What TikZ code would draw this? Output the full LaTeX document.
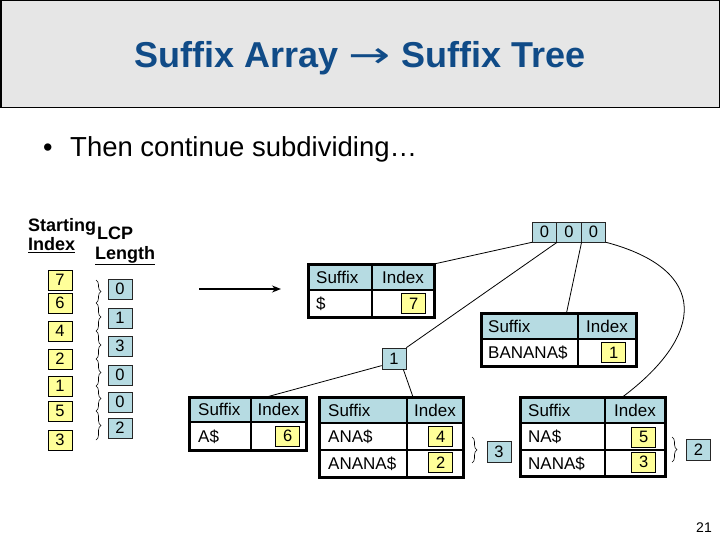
\documentclass[tikz,border=0pt]{standalone}
\usepackage{fontspec}
\usepackage{graphicx}
\setmainfont{Liberation Sans}
\newfontfamily\arrowfont{DejaVu Sans}
\usetikzlibrary{decorations.pathreplacing,calc,arrows.meta}
\definecolor{bandgray}{RGB}{230,230,230}
\definecolor{titleblue}{RGB}{16,75,135}
\definecolor{lcpblue}{RGB}{182,219,226}
\definecolor{idxyellow}{RGB}{255,255,153}
\tikzset{
  yb/.style={draw=black, line width=0.6pt, fill=idxyellow, minimum width=24pt, minimum height=20pt, inner sep=0pt, font=\fontsize{16.5}{16}\selectfont},
  lb/.style={draw=black!85, line width=0.6pt, fill=lcpblue, minimum width=24pt, minimum height=20pt, inner sep=0pt, font=\fontsize{16.5}{16}\selectfont},
  frame/.style={draw=black, line width=3pt, inner sep=0pt, outer sep=0pt},
  innerl/.style={line width=2pt},
  conn/.style={line width=0.8pt},
  brc/.style={decorate, decoration={brace, amplitude=5pt}, line width=0.6pt},
  ttxt/.style={anchor=base west, inner sep=0pt, font=\fontsize{17}{18}\selectfont},
  ttxc/.style={anchor=base, inner sep=0pt, font=\fontsize{17}{18}\selectfont},
  hdr/.style={anchor=base west, inner sep=0pt, font=\fontsize{18}{20}\selectfont\bfseries},
}
\begin{document}
\begin{tikzpicture}[x=1pt,y=-1pt]
\useasboundingbox (0,0) rectangle (720,540);
% title band
\fill[bandgray] (0,0) rectangle (720,108);
\draw[line width=1.5pt] (0.75,0.75) rectangle (719.25,107.5);
\node[anchor=base, inner sep=0pt, text=titleblue, font=\fontsize{36}{40}\selectfont\bfseries] (title) at (360,67.5) {Suffix Array {\arrowfont\mdseries\scalebox{1.4}[1]{→}} Suffix Tree};
% bullet
\node[anchor=base west, inner sep=0pt, font=\fontsize{27}{30}\selectfont] (bul) at (43,157) {•};
\node[anchor=base west, inner sep=0pt, font=\fontsize{27.5}{30}\selectfont] (btxt) at (70,157) {Then continue subdividing…};
% headers
\node[hdr] (hs) at (28,232) {Starting};
\node[hdr] (hi) at (28,251) {\underline{Index}};
\node[hdr] (hl) at (97,240) {LCP};
\node[hdr] (hlen) at (95,259) {\underline{Length}};
% index column
\node[yb] (a1) at (60,280) {7};
\node[yb] (a2) at (60,303) {6};
\node[yb] (a3) at (60,331) {4};
\node[yb] (a4) at (60,359) {2};
\node[yb] (a5) at (60,386) {1};
\node[yb] (a6) at (60,411) {5};
\node[yb] (a7) at (60,440) {3};
% lcp column
\node[lb] (l1) at (120,289) {0};
\node[lb] (l2) at (120,318) {1};
\node[lb] (l3) at (120,346) {3};
\node[lb] (l4) at (120,375) {0};
\node[lb] (l5) at (120,402) {0};
\node[lb] (l6) at (120,428) {2};
\foreach \p/\q in {280/303,303/331,331/359,359/386,386/411,411/440}
  \draw[brc] (96,\p) -- (96,\q);
% arrow
\coordinate (arS) at (199,289);
\coordinate (arE) at (281,289);
\draw[line width=1.3pt, -{Stealth[length=9pt,width=7pt]}] (arS) -- (arE);
% 000 node
\node[lb, minimum width=24.5pt] (z1) at (544.5,232) {0};
\node[lb, minimum width=24.5pt] (z2) at (569,232) {0};
\node[lb, minimum width=24.5pt] (z3) at (593.5,232) {0};
% node 1
\node[lb, minimum height=21pt] (n1) at (394,358.5) {1};
% table $ (7)
\fill[lcpblue] (308,264) rectangle (434,290);
\draw[innerl] (308,290) -- (434,290) (372,264) -- (372,317);
\node[frame, minimum width=126pt, minimum height=53pt] (t7) at (371,290.5) {};
\node[ttxt] at (316,283) {Suffix};
\node[ttxc] at (403,283) {Index};
\node[ttxt] at (316,309.5) {\$};
\node[yb, anchor=east] (i7) at (426,303.5) {7};
% table A$ (6)
\fill[lcpblue] (189,397) rectangle (306,422);
\draw[innerl] (189,422) -- (306,422) (251,397) -- (251,450);
\node[frame, minimum width=117pt, minimum height=53pt] (t6) at (247.5,423.5) {};
\node[ttxt] at (198,415.5) {Suffix};
\node[ttxc] at (278.5,415.5) {Index};
\node[ttxt] at (198,442) {A\$};
\node[yb, anchor=east] (i6) at (300,436) {6};
% table ANA$ (4,2)
\fill[lcpblue] (319,397) rectangle (463,423);
\draw[innerl] (319,423) -- (463,423) (319,450) -- (463,450) (407,397) -- (407,477);
\node[frame, minimum width=144pt, minimum height=80pt] (t42) at (391,437) {};
\node[ttxt] at (328,416) {Suffix};
\node[ttxc] at (435,416) {Index};
\node[ttxt] at (328,442.5) {ANA\$};
\node[ttxt] at (328,469.5) {ANANA\$};
\node[yb, anchor=east] (i4) at (453,436.5) {4};
\node[yb, anchor=east] (i2) at (453,462.5) {2};
% table BANANA$ (1)
\fill[lcpblue] (481,313) rectangle (636,339);
\draw[innerl] (481,339) -- (636,339) (578,313) -- (578,366);
\node[frame, minimum width=155pt, minimum height=53pt] (t1) at (558.5,339.5) {};
\node[ttxt] at (488,332) {Suffix};
\node[ttxc] at (607,332) {Index};
\node[ttxt] at (488,358.5) {BANANA\$};
\node[yb, anchor=east] (i1) at (626,352.5) {1};
% table NA$ (5,3)
\fill[lcpblue] (520,397) rectangle (665,423);
\draw[innerl] (520,423) -- (665,423) (520,450) -- (665,450) (605,397) -- (605,476);
\node[frame, minimum width=145pt, minimum height=79pt] (t53) at (592.5,436.5) {};
\node[ttxt] at (528,416) {Suffix};
\node[ttxc] at (635,416) {Index};
\node[ttxt] at (528,442.5) {NA\$};
\node[ttxt] at (528,469) {NANA\$};
\node[yb, anchor=east] (i5) at (656,437) {5};
\node[yb, anchor=east] (i3) at (656,462) {3};
% braces and lcp boxes by the tables
\draw[brc] (472,437) -- (472,463);
\node[lb, minimum height=21pt] (b3) at (499,451.5) {3};
\draw[brc] (672,437) -- (672,462);
\node[lb, minimum height=21pt] (b2) at (698.5,450) {2};
% connectors
\draw[conn] (z1.south west) -- (t7.north east);
\draw[conn] (z1.south east) -- (n1.north east);
\draw[conn] (z2.south east) -- ($(t1.north)+(8,0)$);
\draw[conn] (z3.south east) .. controls (710,270) and (705,335) .. ($(t53.north)+(30,0)$);
\draw[conn] (n1.210) -- ($(t6.north)+(19,0)$);
\draw[conn] ($(n1.south east)+(-3,0)$) -- ($(t42.north)+(22,0)$);
% page number
\node[anchor=base, inner sep=0pt, font=\fontsize{14}{16}\selectfont] (pg) at (704,532) {21};
\end{tikzpicture}
\end{document}
